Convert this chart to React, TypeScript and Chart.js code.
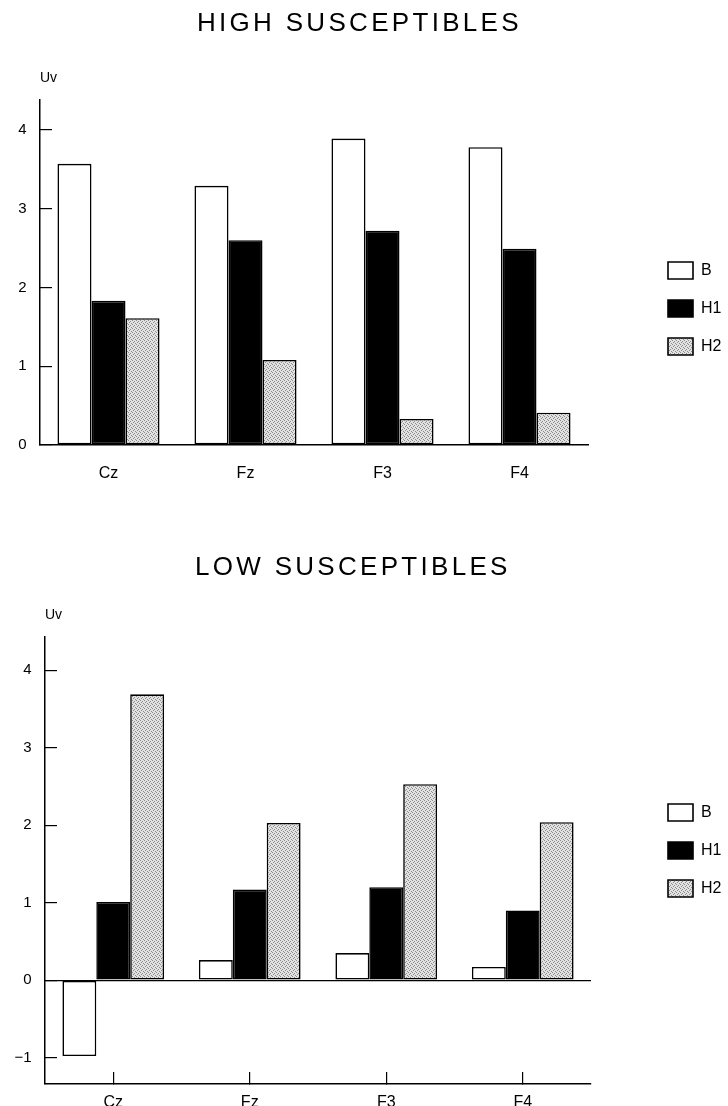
import React, { useEffect, useRef } from 'react';
import { Chart, registerables } from 'chart.js';

Chart.register(...registerables);

// ---------- data ----------
const categories = ['Cz', 'Fz', 'F3', 'F4'];
const seriesNames = ['B', 'H1', 'H2'];

const highB = [3.57, 3.29, 3.89, 3.78];
const highH1 = [1.83, 2.6, 2.72, 2.49];
const highH2 = [1.61, 1.08, 0.33, 0.41];

const lowB = [-0.98, 0.26, 0.35, 0.17];
const lowH1 = [1.01, 1.17, 1.2, 0.9];
const lowH2 = [3.69, 2.03, 2.53, 2.04];

const highTicks = [0, 1, 2, 3, 4];
const lowTicks = [-1, 0, 1, 2, 3, 4];

const highTitle = 'HIGH SUSCEPTIBLES';
const lowTitle = 'LOW SUSCEPTIBLES';
const unitLabel = 'Uv';

const FONT = "'Liberation Sans', Arial, Helvetica, sans-serif";

function makeStipple(): CanvasPattern | string {
  const c = document.createElement('canvas');
  c.width = 4;
  c.height = 4;
  const g = c.getContext('2d');
  if (!g) return '#cccccc';
  g.fillStyle = '#e2e2e2';
  g.fillRect(0, 0, 4, 4);
  g.fillStyle = '#8c8c8c';
  [[0, 0], [2, 1], [1, 2], [3, 3]].forEach(([x, y]) => g.fillRect(x, y, 1, 1));
  return g.createPattern(c, 'repeat') ?? '#cccccc';
}

const unitPlugin = {
  id: 'unitLabel',
  afterDraw(chart: any) {
    const { ctx, chartArea } = chart;
    ctx.save();
    ctx.font = `14px ${FONT}`;
    ctx.fillStyle = '#000';
    ctx.textAlign = 'left';
    ctx.textBaseline = 'middle';
    ctx.fillText(unitLabel, chartArea.left, chartArea.top - 22);
    ctx.restore();
  },
};

type PanelProps = {
  values: number[][];
  yTicks: number[];
  yMin: number;
  yMax: number;
  canvasTop: number;
  canvasHeight: number;
  padTop: number;
  padBottom: number;
  xAxisHeight: number;
  yAxisWidth: number;
  yLabelPad: number;
  gapWidth: number;
  xTickMarks: boolean;
  xLabelPad: number;
  zeroLine: boolean;
  legendGap: number;
};

function Panel(p: PanelProps) {
  const ref = useRef<HTMLCanvasElement | null>(null);

  useEffect(() => {
    const canvas = ref.current;
    if (!canvas) return;
    const stipple = makeStipple();
    const fills: (string | CanvasPattern)[] = ['#ffffff', '#000000', stipple];

    const chart = new Chart(canvas, {
      type: 'bar',
      data: {
        labels: categories,
        datasets: seriesNames.map((name, i) => ({
          label: name,
          data: p.values[i],
          backgroundColor: fills[i] as any,
          borderColor: '#000',
          borderWidth: 1.6,
          borderSkipped: false,
          categoryPercentage: 0.745,
          barPercentage: 1,
          xAxisID: 'x',
          yAxisID: 'y',
        })),
      },
      options: {
        animation: false,
        responsive: false,
        maintainAspectRatio: false,
        layout: { padding: { top: p.padTop, bottom: p.padBottom, left: 0, right: 0 } },
        plugins: {
          title: { display: false },
          tooltip: { enabled: false },
          legend: {
            position: 'right',
            align: 'start',
            maxWidth: 81,
            title: {
              display: true,
              text: ' ',
              font: { size: 10, family: FONT },
              padding: { top: 0, bottom: p.legendGap - 12 },
            },
            labels: {
              boxWidth: 25,
              boxHeight: 17,
              padding: 21,
              color: '#000',
              font: { family: FONT, size: 16 },
            },
          },
        },
        scales: {
          x: {
            type: 'category',
            offset: true,
            grid: p.xTickMarks
              ? {
                  display: true,
                  drawOnChartArea: false,
                  offset: false,
                  tickLength: -12,
                  color: '#000',
                  lineWidth: 1.2,
                }
              : { display: false, drawTicks: false, tickLength: 0 },
            border: { display: true, color: '#000', width: 1.5 },
            ticks: {
              color: '#000',
              font: { family: FONT, size: 16 },
              padding: p.xLabelPad,
              maxRotation: 0,
              autoSkip: false,
            },
            afterFit: (s: any) => {
              s.height = p.xAxisHeight;
              s.paddingLeft = 0;
              s.paddingRight = 0;
            },
          },
          y: {
            type: 'linear',
            position: 'left',
            min: p.yMin,
            max: p.yMax,
            afterBuildTicks: (s: any) => {
              s.ticks = p.yTicks.map((v) => ({ value: v }));
            },
            grid: {
              display: true,
              drawOnChartArea: p.zeroLine,
              tickLength: -12,
              color: (c: any) => (p.zeroLine && c.tick && c.tick.value === 0 ? '#000' : 'rgba(0,0,0,0)'),
              tickColor: '#000',
              lineWidth: 1.2,
            },
            border: { display: true, color: '#000', width: 1.5 },
            ticks: {
              color: '#000',
              font: { family: FONT, size: 15 },
              padding: p.yLabelPad,
              callback: (v: any) => (Number(v) < 0 ? '\u2212' + Math.abs(Number(v)) : String(v)),
            },
            afterFit: (s: any) => {
              s.width = p.yAxisWidth;
              s.paddingTop = 0;
              s.paddingBottom = 0;
            },
          },
          gap: {
            type: 'linear',
            position: 'right',
            display: true,
            grid: { display: false, drawTicks: false },
            border: { display: false },
            ticks: { display: false },
            afterFit: (s: any) => {
              s.width = p.gapWidth;
              s.paddingTop = 0;
              s.paddingBottom = 0;
            },
          },
        },
      } as any,
      plugins: [unitPlugin],
    });
    return () => chart.destroy();
  }, []);

  return (
    <canvas
      ref={ref}
      width={728}
      height={p.canvasHeight}
      style={{ position: 'absolute', left: 0, top: p.canvasTop, width: 728, height: p.canvasHeight, display: 'block' }}
    />
  );
}

const titleStyle: React.CSSProperties = {
  position: 'absolute',
  fontFamily: FONT,
  fontSize: 26,
  lineHeight: '26px',
  letterSpacing: '3.3px',
  color: '#000',
  whiteSpace: 'nowrap',
  margin: 0,
};

export default function App() {
  return (
    <div style={{ position: 'absolute', left: 0, top: 0, width: 728, height: 1106, background: '#fff', overflow: 'hidden' }}>
      <Panel
        values={[highB, highH1, highH2]}
        yTicks={highTicks}
        yMin={0}
        yMax={4.38}
        canvasTop={0}
        canvasHeight={500}
        padTop={100}
        padBottom={15}
        xAxisHeight={40}
        yAxisWidth={40}
        yLabelPad={25.5}
        gapWidth={59}
        xTickMarks={false}
        xLabelPad={19}
        zeroLine={false}
        legendGap={141}
      />
      <Panel
        values={[lowB, lowH1, lowH2]}
        yTicks={lowTicks}
        yMin={-1.34}
        yMax={4.43}
        canvasTop={520}
        canvasHeight={586}
        padTop={117}
        padBottom={0}
        xAxisHeight={22}
        yAxisWidth={45}
        yLabelPad={25.3}
        gapWidth={56}
        xTickMarks={true}
        xLabelPad={21.4}
        zeroLine={true}
        legendGap={146}
      />
      <div style={{ ...titleStyle, left: 197, top: 8.6 }}>{highTitle}</div>
      <div style={{ ...titleStyle, left: 195, top: 552.6 }}>{lowTitle}</div>
    </div>
  );
}
